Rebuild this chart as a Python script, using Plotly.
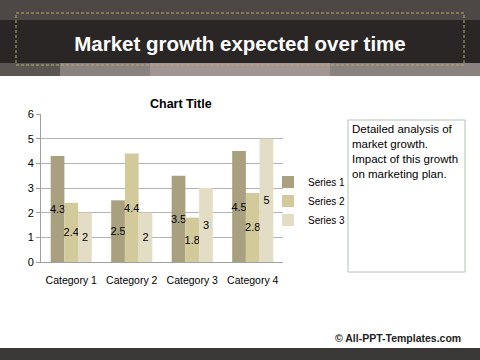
import plotly.graph_objects as go

categories = ["Category 1", "Category 2", "Category 3", "Category 4"]
series_names = ["Series 1", "Series 2", "Series 3"]
series1 = [4.3, 2.5, 3.5, 4.5]
series2 = [2.4, 4.4, 1.8, 2.8]
series3 = [2, 2, 3, 5]
colors = ["#a8a07e", "#d3ca9b", "#e3ddc6"]
y_ticks = [0, 1, 2, 3, 4, 5, 6]

W, H = 480, 360
L, R, T, B = 41, 283, 114, 262  # plot area in pixels


def px(x):
    return (x - L) / (R - L)


def py(y):
    return (B - y) / (B - T)


fig = go.Figure()
for name, vals, col in zip(series_names, [series1, series2, series3], colors):
    fig.add_trace(go.Bar(
        name=name, x=categories, y=vals, marker=dict(color=col, line=dict(width=0)),
        text=[f"{v:g}" for v in vals], textposition="inside", insidetextanchor="middle",
        textangle=0, constraintext="none",
        textfont=dict(family="Liberation Sans, Arial", size=11, color="#000000"),
    ))

shapes = []
# header background
shapes.append(dict(type="rect", xref="paper", yref="paper", x0=px(0), x1=px(480), y0=py(0), y1=py(76),
                   fillcolor="#4d4746", line=dict(width=0), layer="below"))
shapes.append(dict(type="rect", xref="paper", yref="paper", x0=px(0), x1=px(480), y0=py(62), y1=py(76),
                   fillcolor="#8a8281", line=dict(width=0), layer="below"))
shapes.append(dict(type="rect", xref="paper", yref="paper", x0=px(0), x1=px(60), y0=py(62), y1=py(76),
                   fillcolor="#5a5452", line=dict(width=0), layer="below"))
shapes.append(dict(type="rect", xref="paper", yref="paper", x0=px(150), x1=px(330), y0=py(62), y1=py(76),
                   fillcolor="#a39594", line=dict(width=0), layer="below"))
shapes.append(dict(type="rect", xref="paper", yref="paper", x0=px(0), x1=px(480), y0=py(20), y1=py(63),
                   fillcolor="#2a2625", line=dict(width=0), layer="below"))
shapes.append(dict(type="rect", xref="paper", yref="paper", x0=px(16), x1=px(464), y0=py(13), y1=py(65),
                   fillcolor="rgba(0,0,0,0)", line=dict(width=1, color="#b9ad6a", dash="3px,2px"),
                   layer="below"))
# footer band
shapes.append(dict(type="rect", xref="paper", yref="paper", x0=px(0), x1=px(480), y0=py(348), y1=py(360),
                   fillcolor="#3b3838", line=dict(width=0), layer="below"))
# text box
shapes.append(dict(type="rect", xref="paper", yref="paper", x0=px(348), x1=px(465), y0=py(120), y1=py(272),
                   fillcolor="#ffffff", line=dict(width=1, color="#b4c2b4"), layer="below"))

annotations = [
    dict(text="<b>Chart Title</b>", xref="paper", yref="paper", x=px(181), y=py(95),
         showarrow=False, font=dict(family="Liberation Sans, Arial", size=12.5, color="#000000")),
    dict(text="Detailed analysis of<br>market growth.<br>Impact of this growth<br>on marketing plan.",
         xref="paper", yref="paper", x=px(350), y=py(121), xanchor="left", yanchor="top", align="left",
         showarrow=False, font=dict(family="Liberation Sans, Arial", size=11.5, color="#000000")),
    dict(text="<b>© All-PPT-Templates.com</b>", xref="paper", yref="paper", x=px(463), y=py(338),
         xanchor="right", yanchor="middle", showarrow=False,
         font=dict(family="Liberation Sans, Arial", size=10.5, color="#222222")),
]

fig.update_layout(
    width=W, height=H,
    margin=dict(l=L, r=W - R, t=T, b=H - B, pad=0),
    paper_bgcolor="#ffffff", plot_bgcolor="#ffffff",
    barmode="group", bargap=0.32, bargroupgap=0,
    title=dict(text="<b>Market growth expected over time</b>", xref="container", yref="container",
               x=0.5, xanchor="center", y=1 - 44 / H, yanchor="middle",
               font=dict(family="Liberation Sans, Arial", size=20.5, color="#ffffff")),
    legend=dict(x=px(268), y=py(201), xanchor="left", yanchor="middle", bgcolor="rgba(0,0,0,0)",
                font=dict(family="Liberation Sans, Arial", size=10, color="#000000"),
                itemwidth=30, tracegroupgap=0),
    shapes=shapes, annotations=annotations,
    xaxis=dict(showgrid=False, showline=True, linecolor="#a0a0a0", linewidth=1,
               tickfont=dict(family="Liberation Sans, Arial", size=10.5, color="#000000"),
               ticklabelstandoff=8, fixedrange=True),
    yaxis=dict(range=[0, 6], tickvals=y_ticks, showgrid=True, gridcolor="#b4b4b4", gridwidth=1,
               showline=True, linecolor="#a0a0a0", linewidth=1, ticks="outside", ticklen=4,
               tickcolor="#a0a0a0", zeroline=False,
               tickfont=dict(family="Liberation Sans, Arial", size=11, color="#000000")),
    showlegend=True,
)

fig.write_html("out.html", config={"displayModeBar": False},
               post_script="document.body.style.margin='0';document.body.style.overflow='hidden';")
